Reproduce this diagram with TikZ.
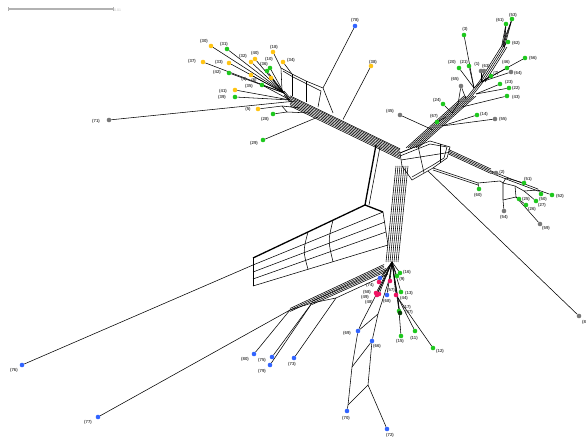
\documentclass[tikz,border=0pt]{standalone}
\usepackage{fontspec}
\setmainfont{Liberation Sans}
\usetikzlibrary{backgrounds,calc}
\definecolor{ylw}{RGB}{255,196,20}
\definecolor{grn}{RGB}{30,200,30}
\definecolor{gry}{RGB}{120,120,120}
\definecolor{blu}{RGB}{50,100,255}
\definecolor{pnk}{RGB}{240,20,100}
\begin{document}
\begin{tikzpicture}[x=1pt,y=-1pt,
 dot/.style={circle,inner sep=0pt,minimum size=4.6pt},
 lab/.style={font=\fontsize{4.3}{5}\selectfont\bfseries,text=black!75,inner sep=0pt},
 edge/.style={line width=0.55pt,black},
 thk/.style={line width=1.3pt,black}]
\useasboundingbox (0,0) rectangle (586,438);
% ---------- scale bar
\coordinate (sb1) at (8,9); \coordinate (sb2) at (113,9);
\draw[gray!60,line width=1.1pt] (sb1) -- (sb2);
\draw[gray!60,line width=0.6pt] ([yshift=-2pt]sb1) -- ([yshift=2pt]sb1);
\draw[gray!60,line width=0.6pt] ([yshift=-2pt]sb2) -- ([yshift=2pt]sb2);
\node[font=\fontsize{3.5}{4}\selectfont,text=gray!50,anchor=west,inner sep=0pt] (sbl) at (114,10) {0.01};
% ---------- leaves: upper left
\node[dot,fill=ylw] (n30) at (211,46) {}; \node[lab] (l30) at (204,41) {(30)};
\node[dot,fill=grn] (n31) at (227,49) {}; \node[lab] (l31) at (224,44) {(31)};
\node[dot,fill=ylw] (n37) at (203,62) {}; \node[lab] (l37) at (192,61) {(37)};
\node[dot,fill=ylw] (n33) at (229,63) {}; \node[lab] (l33) at (219,62) {(33)};
\node[dot,fill=ylw] (n32) at (251,62) {}; \node[lab] (l32) at (243,56) {(32)};
\node[dot,fill=ylw] (n40) at (255,59) {}; \node[lab] (l40) at (255,53) {(40)};
\node[dot,fill=ylw] (n18) at (273,52) {}; \node[lab] (l18) at (274,47) {(18)};
\node[dot,fill=ylw] (n34) at (283,62) {}; \node[lab] (l34) at (291,60) {(34)};
\node[dot,fill=grn] (n10) at (270,68) {}; \node[lab] (l10) at (269,59) {(10)};
\node[dot,fill=grn] (n36) at (267,71) {}; \node[lab] (l36) at (264,64) {(36)};
\node[dot,fill=ylw] (n4) at (251,75) {}; \node[lab] (l4) at (244,79) {(4)};
\node[dot,fill=ylw] (n6) at (271,78) {}; \node[lab] (l6) at (254,80) {(6)};
\node[dot,fill=grn] (n42) at (229,73) {}; \node[lab] (l42) at (217,72) {(42)};
\node[dot,fill=grn] (n35) at (262,85) {}; \node[lab] (l35) at (249,86) {(35)};
\node[dot,fill=ylw] (n41) at (235,90) {}; \node[lab] (l41) at (223,91) {(41)};
\node[dot,fill=grn] (n39) at (235,97) {}; \node[lab] (l39) at (222,97) {(39)};
\node[dot,fill=ylw] (n5) at (258,109) {}; \node[lab] (l5) at (248,109) {(5)};
\node[dot,fill=grn] (n28) at (273,114) {}; \node[lab] (l28) at (265,119) {(28)};
\node[dot,fill=grn] (n29) at (263,140) {}; \node[lab] (l29) at (254,143) {(29)};
\node[dot,fill=gry] (n71) at (109,120) {}; \node[lab] (l71) at (96,121) {(71)};
\node[dot,fill=blu] (n78) at (355,26) {}; \node[lab] (l78) at (355,20) {(78)};
\node[dot,fill=ylw] (n38) at (371,66) {}; \node[lab] (l38) at (373,62) {(38)};
\node[dot,fill=gry] (n45) at (400,115) {}; \node[lab] (l45) at (390,111) {(45)};
% ---------- leaves: upper right
\node[dot,fill=grn] (n53) at (512,19) {}; \node[lab] (l53) at (513,15) {(53)};
\node[dot,fill=grn] (n61) at (506,24) {}; \node[lab] (l61) at (500,20) {(61)};
\node[dot,fill=grn] (n62) at (508,42) {}; \node[lab] (l62) at (516,43) {(62)};
\node[dot,fill=grn] (n3) at (464,35) {}; \node[lab] (l3) at (465,29) {(3)};
\node[dot,fill=grn] (n56) at (525,58) {}; \node[lab] (l56) at (533,58) {(56)};
\node[dot,fill=grn] (n46) at (507,68) {}; \node[lab] (l46) at (506,62) {(46)};
\node[dot,fill=gry] (n64) at (511,72) {}; \node[lab] (l64) at (518,73) {(64)};
\node[dot,fill=grn] (n7) at (491,76) {}; \node[lab] (l7) at (496,73) {(7)};
\node[dot,fill=grn] (n20) at (459,68) {}; \node[lab] (l20) at (452,62) {(20)};
\node[dot,fill=grn] (n21) at (469,66) {}; \node[lab] (l21) at (464,62) {(21)};
\node[dot,fill=gry] (n1) at (481,71) {}; \node[lab] (l1) at (477,64) {(1)};
\node[dot,fill=gry] (n63) at (484,71) {}; \node[lab] (l63) at (486,66) {(63)};
\node[dot,fill=gry] (n65) at (461,86) {}; \node[lab] (l65) at (455,79) {(65)};
\node[dot,fill=grn] (n23) at (500,84) {}; \node[lab] (l23) at (509,82) {(23)};
\node[dot,fill=grn] (n22) at (509,88) {}; \node[lab] (l22) at (516,88) {(22)};
\node[dot,fill=grn] (n43) at (507,96) {}; \node[lab] (l43) at (516,97) {(43)};
\node[dot,fill=grn] (n24) at (443,104) {}; \node[lab] (l24) at (437,100) {(24)};
\node[dot,fill=grn] (n14) at (477,115) {}; \node[lab] (l14) at (484,114) {(14)};
\node[dot,fill=gry] (n55) at (495,119) {}; \node[lab] (l55) at (503,119) {(55)};
\node[dot,fill=grn] (n67) at (437,122) {}; \node[lab] (l67) at (434,116) {(67)};
% ---------- leaves: right
\node[dot,fill=gry] (n2) at (496,173) {}; \node[lab] (l2) at (502,172) {(2)};
\node[dot,fill=grn] (n51) at (524,183) {}; \node[lab] (l51) at (528,179) {(51)};
\node[dot,fill=grn] (n60) at (479,189) {}; \node[lab] (l60) at (478,195) {(60)};
\node[dot,fill=grn] (n50) at (541,194) {}; \node[lab] (l50) at (543,199) {(50)};
\node[dot,fill=grn] (n52) at (552,195) {}; \node[lab] (l52) at (560,196) {(52)};
\node[dot,fill=grn] (n25) at (519,199) {}; \node[lab] (l25) at (526,199) {(25)};
\node[dot,fill=grn] (n27) at (536,201) {}; \node[lab] (l27) at (542,205) {(27)};
\node[dot,fill=grn] (n26) at (526,205) {}; \node[lab] (l26) at (532,209) {(26)};
\node[dot,fill=gry] (n54) at (504,211) {}; \node[lab] (l54) at (504,217) {(54)};
\node[dot,fill=gry] (n59) at (540,224) {}; \node[lab] (l59) at (546,228) {(59)};
\node[dot,fill=gry] (n8) at (579,316) {}; \node[lab,anchor=west] (l8) at (582,322) {(8)};
% ---------- leaves: bottom
\node[dot,fill=grn] (n16) at (400,273) {}; \node[lab] (l16) at (407,272) {(16)};
\node[dot,fill=grn] (n9) at (397,276) {}; \node[lab] (l9) at (402,279) {(9)};
\node[dot,fill=blu] (nb) at (380,278) {};
\node[dot,fill=pnk] (n74) at (379,282) {}; \node[lab] (l74) at (370,285) {(74)};
\node[dot,fill=pnk] (n57) at (390,281) {}; \node[lab] (l57) at (391,290) {(57)};
\node[dot,fill=pnk] (n58) at (376,293) {}; \node[lab] (l58) at (367,292) {(58)};
\node[dot,fill=pnk] (n49) at (379,294) {}; \node[lab] (l49) at (365,297) {(49)};
\node[dot,fill=pnk] (n48) at (377,295) {}; \node[lab] (l48) at (369,302) {(48)};
\node[dot,fill=blu] (n68) at (387,295) {}; \node[lab] (l68) at (387,301) {(68)};
\node[dot,fill=grn] (n13) at (401,292) {}; \node[lab] (l13) at (409,293) {(13)};
\node[dot,fill=pnk] (n44) at (396,295) {}; \node[lab] (l44) at (404,298) {(44)};
\node[dot,fill=grn] (n17) at (399,311) {}; \node[lab] (l17) at (407,307) {(17)};
\node[dot,fill=black!70!grn] (n47) at (400,313) {}; \node[lab] (l47) at (409,312) {(47)};
\node[dot,fill=grn] (n15) at (401,336) {}; \node[lab] (l15) at (400,341) {(15)};
\node[dot,fill=grn] (n11) at (415,331) {}; \node[lab] (l11) at (414,338) {(11)};
\node[dot,fill=grn] (n12) at (433,348) {}; \node[lab] (l12) at (440,351) {(12)};
\node[dot,fill=blu] (n69) at (358,331) {}; \node[lab] (l69) at (347,333) {(69)};
\node[dot,fill=blu] (n66) at (372,341) {}; \node[lab] (l66) at (377,346) {(66)};
\node[dot,fill=blu] (n70) at (347,411) {}; \node[lab] (l70) at (346,418) {(70)};
\node[dot,fill=blu] (n72) at (387,429) {}; \node[lab] (l72) at (390,435) {(72)};
% ---------- leaves: bottom left
\node[dot,fill=blu] (n80) at (254,354) {}; \node[lab] (l80) at (245,359) {(80)};
\node[dot,fill=blu] (n75) at (272,357) {}; \node[lab] (l75) at (262,360) {(75)};
\node[dot,fill=blu] (n79) at (270,365) {}; \node[lab] (l79) at (262,371) {(79)};
\node[dot,fill=blu] (n73) at (294,358) {}; \node[lab] (l73) at (292,364) {(73)};
\node[dot,fill=blu] (n76) at (22,365) {}; \node[lab] (l76) at (14,370) {(76)};
\node[dot,fill=blu] (n77) at (98,417) {}; \node[lab] (l77) at (88,422) {(77)};
% ---------- internal vertices
\coordinate (ulA) at (284,93); \coordinate (ulB) at (290,100);
\coordinate (c0) at (400,153); \coordinate (c1) at (402,166);
\coordinate (t1) at (281,68); \coordinate (t2) at (292,74); \coordinate (t3) at (306,81);
\coordinate (t4) at (323,88); \coordinate (t5) at (333,113);
\coordinate (t1b) at (283,71); \coordinate (t2b) at (293,77); \coordinate (t3b) at (307,84); \coordinate (t4b) at (321,91);
\coordinate (k1) at (282,91); \coordinate (k2) at (292,96); \coordinate (k3) at (306,102); \coordinate (k4) at (318,107);
\coordinate (b38) at (343,119.5); \coordinate (c71) at (296,101);
\coordinate (p5) at (282,106); \coordinate (p28) at (287,112);
\coordinate (pj1) at (300,108); \coordinate (pj2) at (310,113); \coordinate (pj3) at (318,117);
\coordinate (urs) at (412,148); \coordinate (ure) at (470,96); \coordinate (uh) at (481,82);
\coordinate (q8) at (474,88); \coordinate (q6) at (476,94); \coordinate (u62) at (503,47);
\coordinate (q1) at (466,99); \coordinate (q1a) at (458,104); \coordinate (q2) at (452,113);
\coordinate (q3) at (446,117); \coordinate (q4) at (442,126); \coordinate (q5) at (462,107); \coordinate (q7) at (433,130);
\coordinate (r1) at (430,141); \coordinate (r2) at (450,147); \coordinate (r3) at (447,158);
\coordinate (r4) at (433,168); \coordinate (r5) at (412,180); \coordinate (r8) at (428,171);
\coordinate (g1) at (418,146); \coordinate (g2) at (424,173); \coordinate (g3) at (440,144); \coordinate (g4) at (440,163);
\coordinate (h1) at (401,160); \coordinate (h2) at (448.5,152.5);
\coordinate (rb1) at (491,172); \coordinate (rb2) at (506,178); \coordinate (rb3) at (538,190);
\coordinate (rl) at (478,183); \coordinate (rl2) at (500,181);
\coordinate (s1) at (503,183); \coordinate (s2) at (503,200); \coordinate (s3) at (515,186);
\coordinate (s4) at (516,197); \coordinate (s5) at (524,191);
\coordinate (bb) at (392,262); \coordinate (bf1) at (398,298);
\coordinate (bl0) at (386,276); \coordinate (bl1) at (389,280);
\coordinate (ll1) at (362,322); \coordinate (ll2) at (352,367); \coordinate (ll3) at (348,405);
\coordinate (rla) at (378,314); \coordinate (rlb) at (368,385);
\coordinate (cb1) at (376,145); \coordinate (cb1b) at (380,147);
\coordinate (cb2) at (365,205); \coordinate (cb3) at (383,212); \coordinate (cb4) at (388,245);
\coordinate (LR3) at (385,222); \coordinate (LR4) at (386,232);
\coordinate (LL1) at (253,258); \coordinate (LL2) at (253,265); \coordinate (LL3) at (253,272);
\coordinate (LL4) at (253,279); \coordinate (LL5) at (253,286);
\coordinate (rA1) at (308,232); \coordinate (rA2) at (308,269.3);
\coordinate (rB1) at (333,220); \coordinate (rB2) at (333,261.7);
\coordinate (rAm) at (303,251); \coordinate (rBm) at (328,241);
\coordinate (e1) at (290,310); \coordinate (e2) at (312,303); \coordinate (e3) at (336,298);
\coordinate (f1) at (384,266); \coordinate (f2) at (386,270); \coordinate (f3) at (388,274);
% ---------- edges
\begin{scope}[on background layer]
% upper-left bundle
\foreach \d in {-6,-4.5,-3,-1.5,0,1.5,3,4.2} {\draw[edge] ([yshift=\d pt]ulB) -- ([yshift=\d pt]c0);}
\foreach \d in {-2,0,2} {\draw[edge] ([yshift=\d pt]ulA) -- ([yshift=\d pt]ulB);}
\foreach \n in {n30,n31,n37,n33,n42,n32,n40,n4,n10,n36} {\draw[edge] (\n) -- (ulA);}
\foreach \n in {n6,n35,n41,n39} {\draw[edge] (\n) -- (ulB);}
\draw[edge] (t1) -- (t2) -- (t3) -- (t4) -- (t5);
\draw[edge] (t1b) -- (t2b) -- (t3b) -- (t4b);
\draw[edge] (t1) -- (k1); \draw[edge] (t2) -- (k2); \draw[edge] (t3) -- (k3); \draw[edge] (t4b) -- (k4);
\draw[edge] (n18) -- (t1); \draw[edge] (n34) -- (t2);
\draw[edge] (n78) -- (t4); \draw[edge] (n38) -- (b38); \draw[edge] (n71) -- (c71);
\draw[edge] (n5) -- (p5) -- (pj1); \draw[edge] (n28) -- (p28) -- (pj2); \draw[edge] (p5) -- (p28);
\draw[edge] (n29) -- (pj3);
% upper-right bundle
\draw[edge] (c0) -- (urs);
\foreach \d in {-6,-4,-2,0,2,4,6} {\draw[edge] ([xshift=\d pt]urs) -- ([xshift=\d pt]ure);}
\foreach \d in {-2,0,2} {\draw[edge] ([xshift=\d pt]ure) -- ([xshift=\d pt]uh);}
\foreach \n in {n1,n63,n7,n46,n64,n56} {\draw[edge] (\n) -- (uh);}
\foreach \n in {n3,n20,n21} {\draw[edge] (\n) -- (q8);}
\draw[edge] (q8) -- (uh);
\draw[edge] (n23) -- (q6); \draw[edge] (n22) -- (q6);
\foreach \d in {-2,0,2,4} {\draw[edge] ([xshift=\d pt]uh) -- ([xshift=\d pt]u62);}
\draw[edge] (u62) -- (n62);
\foreach \d in {-1.5,0,1.5} {\draw[edge] ([xshift=\d pt]u62) -- (n61); \draw[edge] ([xshift=\d pt]u62) -- (n53);}
\draw[edge] (n65) -- (q1); \draw[edge] (n65) -- (q1a); \draw[edge] (q1a) -- (q2);
\draw[edge] (n24) -- (q2); \draw[edge] (n67) -- (q3);
\draw[edge] (n14) -- (q4); \draw[edge] (n55) -- (q4);
\draw[edge] (n43) -- (q5); \draw[edge] (n45) -- (q7);
% central ring
\draw[edge] (c0) -- (r1) -- (r2) -- (r3) -- (r4) -- (r5) -- (c1) -- (c0);
\draw[edge] ([yshift=-3pt]c0) -- ([yshift=-3pt]r1) -- ([xshift=-3pt]r2) -- ([xshift=-3pt]r3) -- ([yshift=3pt]r4) -- ([yshift=3pt]r5);
\draw[edge] (g1) -- (g2); \draw[edge] (g3) -- (g4); \draw[edge] (h1) -- (h2);
% right branch
\foreach \d in {-1.5,0,1.5,3} {\draw[edge] ([yshift=\d pt]h2) -- ([yshift=\d pt]rb1);}
\draw[edge] (rb1) -- (n2);
\draw[edge] (r4) -- (rl) -- (n60); \draw[edge] ([yshift=-2pt]r4) -- ([yshift=-2pt]rl); \draw[edge] (rl) -- (rl2) -- (s1);
\foreach \d in {-1,1} {\draw[edge] ([yshift=\d pt]rb1) -- ([yshift=\d pt]rb2) -- ([yshift=\d pt]rb3);}
\draw[edge] (rb2) -- (n51); \draw[edge] (rb3) -- (n52); \draw[edge] (rb3) -- (n50);
\draw[edge] (rb2) -- (s1) -- (s2) -- (n54); \draw[edge] (s1) -- (s3) -- (s4) -- (n25);
\draw[edge] (s2) -- (s4); \draw[edge] (s4) -- (n26); \draw[edge] (s3) -- (s5) -- (rb3);
\draw[edge] (s5) -- (n27); \draw[edge] (s4) -- (n59);
\draw[edge] (r8) -- (n8);
% bottom bundle
\foreach \d in {-6,-4,-2,0,2,4,6} {\draw[edge] ([xshift=\d pt]c1) -- ([xshift=\d pt]bb);}
\draw[thk] (cb1) -- (cb2) -- (cb3); \draw[edge] (cb3) -- (cb4); \draw[edge] (cb1b) -- ([xshift=4pt]cb2);
\foreach \n in {n16,n9,nb,n74,n57,n58,n49,n48,n68,n13,n44,n17,n47} {\draw[edge] (bb) -- (\n);}
\draw[edge] (bb) -- (bf1); \draw[edge] (bf1) -- (n15); \draw[edge] (bf1) -- (n11); \draw[edge] (bf1) -- (n12);
\draw[edge] (bb) -- (bl0) -- (ll1) -- (n69) -- (ll2) -- (ll3) -- (n70);
\draw[edge] (bb) -- (bl1) -- (rla) -- (n66) -- (rlb) -- (n72);
\draw[edge] (n69) -- (rla); \draw[edge] (ll2) -- (n66); \draw[edge] (ll3) -- (rlb);
% lower-left band
\draw[thk] (cb2) -- (LL1);
\draw[edge] (cb3) -- (LL2); \draw[edge] (LR3) -- (LL3); \draw[edge] (LR4) -- (LL4); \draw[edge] (cb4) -- (LL5);
\draw[edge] (LL1) -- (LL5);
\draw[edge] (rA1) .. controls (rAm) .. (rA2);
\draw[edge] (rB1) .. controls (rBm) .. (rB2);
\draw[edge] (n76) -- (LL2);
\foreach \d in {-1.5,0,1.5} {\draw[edge] ([yshift=\d pt]e1) -- ([yshift=\d pt]f1); \draw[edge] ([yshift=\d pt]e2) -- ([yshift=\d pt]f2);}
\draw[edge] (e3) -- (f3); \draw[edge] (e1) -- (e2) -- (e3);
\draw[edge] (n77) -- (e1); \draw[edge] (n80) -- (e1);
\draw[edge] (n75) -- (e2); \draw[edge] (n79) -- (e2); \draw[edge] (n73) -- (e3);
\end{scope}
\end{tikzpicture}
\end{document}
